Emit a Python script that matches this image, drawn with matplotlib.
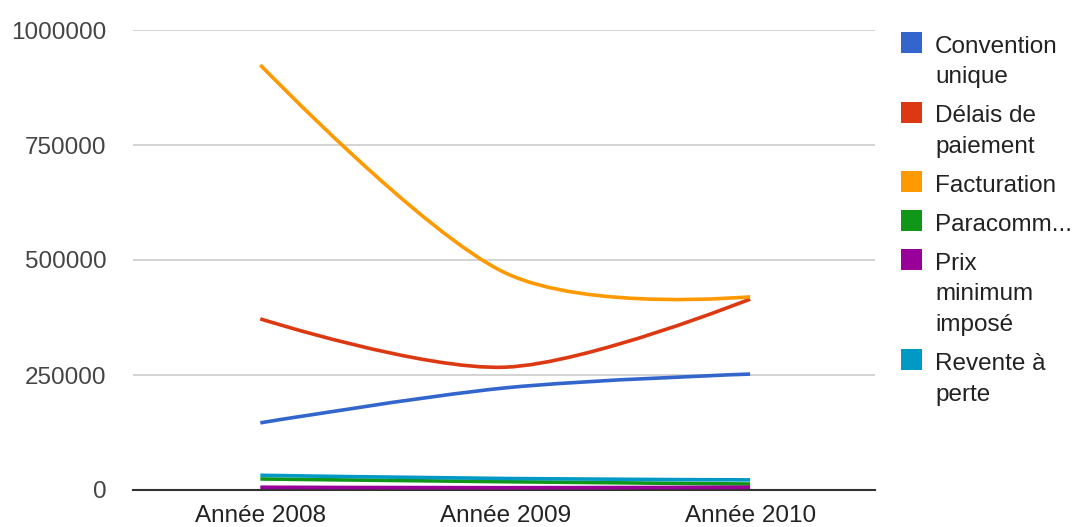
'''
Recreation of a Google-style line chart (curved lines) with a right-hand legend.
'''

import numpy as np
import matplotlib
matplotlib.use('Agg')
import matplotlib.pyplot as plt
from matplotlib.path import Path
from matplotlib.patches import PathPatch, Rectangle

#------
#Data
years = ['Année 2008', 'Année 2009', 'Année 2010']
convention_unique = [146000, 222000, 252000]
delais_paiement = [372000, 267000, 415000]
facturation = [924000, 472000, 420000]
paracomm = [24000, 18000, 13000]
prix_minimum = [6000, 5000, 6000]
revente_perte = [32000, 25000, 22000]

labels = ['Convention\nunique', 'Délais de\npaiement', 'Facturation',
          'Paracomm...', 'Prix\nminimum\nimposé', 'Revente à\nperte']
series = [convention_unique, delais_paiement, facturation,
          paracomm, prix_minimum, revente_perte]
colors = ['#3366cc', '#dc3912', '#ff9900', '#109618', '#990099', '#0099c6']
y_ticks = [0, 250000, 500000, 750000, 1000000]


def smooth_path(xs, ys, k=1/6):
    #cubic bezier segments through the points (catmull-rom style tangents)
    pts = np.column_stack([xs, ys]).astype(float)
    n = len(pts)
    verts = [pts[0]]
    codes = [Path.MOVETO]
    for i in range(n - 1):
        p0 = pts[i - 1] if i > 0 else pts[i]
        p1 = pts[i]
        p2 = pts[i + 1]
        p3 = pts[i + 2] if i + 2 < n else pts[i + 1]
        c1 = p1 + (p2 - p0) * k if i > 0 else p1
        c2 = p2 - (p3 - p1) * k if i + 2 < n else p2
        verts += [c1, c2, p2]
        codes += [Path.CURVE4] * 3
    return Path(verts, codes)


#------
#Plot
plt.rcParams['font.family'] = ['Liberation Sans', 'DejaVu Sans']
fig = plt.figure(figsize=(10.75, 5.27), dpi=100)
W, H = 1075, 527
ax = fig.add_axes([133 / W, (H - 490) / H, (875 - 133) / W, (490 - 30) / H])

x = np.arange(len(years))
for vals, col in zip(series, colors):
    ax.add_patch(PathPatch(smooth_path(x, vals), facecolor='none',
                           edgecolor=col, lw=2.6, capstyle='butt',
                           joinstyle='round', zorder=3))

ax.set_xlim(-0.52, 2.51)
ax.set_ylim(0, 1000000)
ax.set_yticks(y_ticks)
ax.set_yticklabels([str(v) for v in y_ticks], color='#444444', fontsize=17.5)
ax.set_xticks(x)
ax.set_xticklabels(years, color='#222222', fontsize=17.5)
ax.tick_params(length=0, pad=19, axis='y')
ax.tick_params(length=0, pad=11, axis='x')
ax.grid(axis='y', color='#cccccc', lw=1.2, zorder=0)
ax.grid(axis='x', visible=False)
for s in ['top', 'right', 'left']:
    ax.spines[s].set_visible(False)
ax.spines['bottom'].set_color('#333333')
ax.spines['bottom'].set_linewidth(1.5)
ax.spines['bottom'].set_zorder(2)

#------
#Legend, drawn by hand so the swatch sits on the first line
baseline = 53
for lab, col in zip(labels, colors):
    fig.patches.append(Rectangle((901 / W, 1 - baseline / H), 21 / W, 21 / H,
                                 transform=fig.transFigure, facecolor=col,
                                 edgecolor='none'))
    for j, line in enumerate(lab.split('\n')):
        fig.text(935 / W, 1 - (baseline + 30.5 * j) / H, line, fontsize=17.5,
                 color='#222222', va='baseline', ha='left')
    baseline += 30.5 * lab.count('\n') + 39

fig.savefig('out.png', dpi=100)
